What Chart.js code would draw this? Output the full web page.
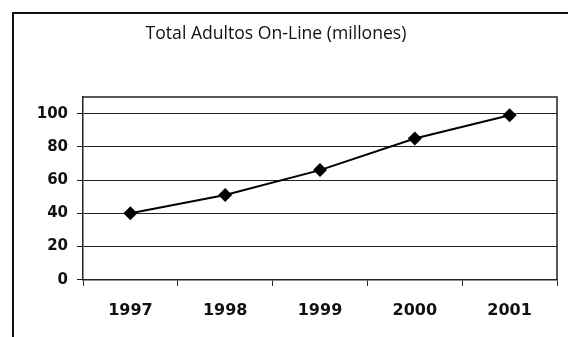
<!DOCTYPE html>
<html>
<head>
<meta charset="utf-8">
<script src="https://cdn.jsdelivr.net/npm/chart.js@4"></script>
<style>
  html, body { margin: 0; padding: 0; background: #fff; }
  #wrap { width: 568px; height: 337px; }
</style>
</head>
<body>
<div id="wrap"><canvas id="adultsChart" width="568" height="337"></canvas></div>
<script>
// Data
const titleText = "Total Adultos On-Line (millones)"
const years = ["1997", "1998", "1999", "2000", "2001"]
const adults = [40, 51, 66, 85, 99]
const yTicks = [0, 20, 40, 60, 80, 100]

const fontFamily = "'Open Sans', Lato, sans-serif"
const tickFamily = "'DejaVu Sans', 'Open Sans', sans-serif"

// frame, plot border and title
const framePlugin = {
  id: "frame",
  beforeDraw(chart) {
    const ctx = chart.ctx
    ctx.save()
    ctx.fillStyle = "#fff"
    ctx.fillRect(0, 0, chart.width, chart.height)
    ctx.strokeStyle = "#111"
    ctx.lineWidth = 2
    ctx.beginPath()
    ctx.moveTo(13, chart.height)
    ctx.lineTo(13, 13)
    ctx.lineTo(chart.width, 13)
    ctx.stroke()
    ctx.fillStyle = "#111"
    ctx.font = "17.6px " + fontFamily
    ctx.textAlign = "center"
    ctx.textBaseline = "middle"
    ctx.fillText(titleText, 276, 34)
    ctx.restore()
  },
  afterDatasetsDraw(chart) {
    const { left, top, right, bottom } = chart.chartArea
    const ctx = chart.ctx
    ctx.save()
    ctx.strokeStyle = "#222"
    ctx.lineWidth = 1.5
    ctx.beginPath()
    ctx.moveTo(left, top)
    ctx.lineTo(right, top)
    ctx.lineTo(right, bottom)
    ctx.stroke()
    ctx.restore()
  },
}

document.addEventListener("DOMContentLoaded", () => {
  const ctx = document.getElementById("adultsChart")
  new Chart(ctx, {
    type: "line",
    data: {
      labels: years,
      datasets: [
        {
          label: titleText,
          data: adults,
          borderColor: "#000",
          backgroundColor: "#000",
          borderWidth: 2,
          pointStyle: "rectRot",
          pointRadius: 7,
          pointBorderWidth: 0,
          tension: 0,
        },
      ],
    },
    options: {
      responsive: false,
      animation: false,
      layout: {
        padding: { top: 97, right: 11, bottom: 2, left: 0 },
      },
      plugins: {
        legend: { display: false },
        tooltip: { enabled: false },
      },
      scales: {
        x: {
          offset: true,
          grid: {
            offset: true,
            drawOnChartArea: false,
            color: "#222",
            tickLength: 6,
          },
          border: { color: "#222", width: 1.5 },
          ticks: {
            color: "#111",
            padding: 15,
            font: { family: tickFamily, size: 16, weight: "bold" },
          },
        },
        y: {
          min: 0,
          max: 110,
          afterBuildTicks: (scale) => {
            scale.ticks = yTicks.map((v) => ({ value: v }))
          },
          afterFit: (scale) => {
            scale.width = 83
          },
          grid: {
            color: "#222",
            lineWidth: 1,
            tickLength: 6,
          },
          border: { color: "#222", width: 1.5 },
          ticks: {
            color: "#111",
            padding: 9,
            font: { family: tickFamily, size: 15, weight: "bold" },
          },
        },
      },
    },
    plugins: [framePlugin],
  })
})
</script>
</body>
</html>
